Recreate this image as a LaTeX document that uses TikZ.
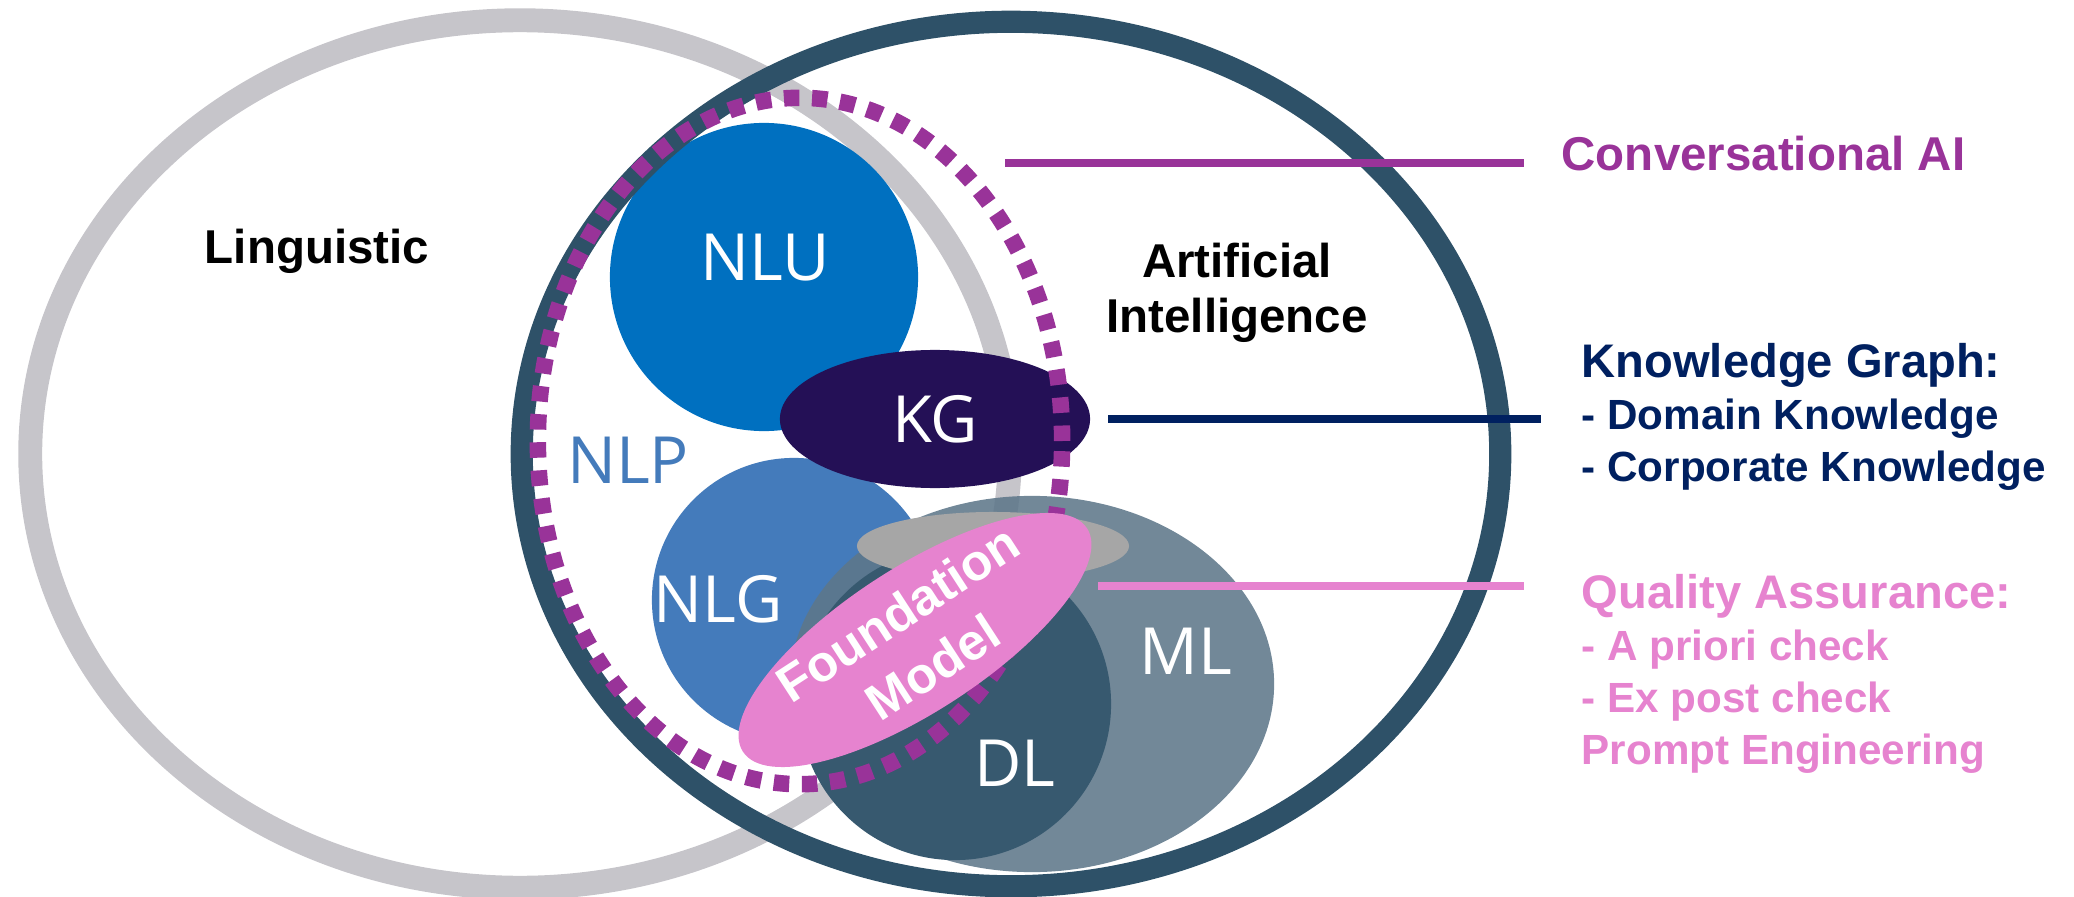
\documentclass[tikz,border=0pt]{standalone}
\usepackage{fontspec}
\setmainfont{Liberation Sans}
\newfontfamily\circlefont{Open Sans}
\usetikzlibrary{shapes.geometric}

\definecolor{lingray}{HTML}{C6C5CA}
\definecolor{aislate}{HTML}{2E5168}
\definecolor{convpurple}{HTML}{993399}
\definecolor{nlublue}{HTML}{0070C0}
\definecolor{kgpurple}{HTML}{241056}
\definecolor{kgnavy}{HTML}{002060}
\definecolor{nlgblue}{HTML}{447BBB}
\definecolor{mlslate}{HTML}{5E778A}
\definecolor{dlslate}{HTML}{37596F}
\definecolor{capgray}{HTML}{A6A6A6}
\definecolor{fmpink}{HTML}{E683CF}

\begin{document}
\begin{tikzpicture}[x=0.01cm, y=-0.01cm,
    blob/.style={ellipse, inner sep=0pt, outer sep=0pt},
    ring/.style={blob, fill=none},
    circlabel/.style={font=\circlefont\fontsize{18.5}{20}\selectfont, text=white},
    bigtitle/.style={font=\bfseries\fontsize{13.5}{15.6}\selectfont, align=center},
    sidetext/.style={anchor=north west, inner sep=0pt, align=left,
        font=\bfseries\fontsize{12}{14.8}\selectfont},
    leader/.style={line width=2pt}]

    \useasboundingbox (0,0) rectangle (2074,897);

    % outer sets
    \node[ring, draw=lingray, line width=6.8pt, minimum width=9.79cm, minimum height=8.67cm] (ling) at (520,454) {};

    \node[blob, fill=nlublue, minimum width=3.08cm, minimum height=3.08cm] (nlu) at (764,277) {};
    \node[blob, fill=nlgblue, minimum width=2.84cm, minimum height=2.84cm] (nlg) at (794,600) {};
    \node[blob, fill=mlslate, fill opacity=0.88, minimum width=4.84cm, minimum height=3.76cm] (ml) at (1032,684) {};
    \node[blob, fill=dlslate, minimum width=3.12cm, minimum height=3.12cm] (dl) at (955,704) {};

    \node[ring, draw=aislate, line width=6.3pt, minimum width=9.78cm, minimum height=8.64cm] (ai) at (1011,454) {};

    \node[blob, fill=kgpurple, text=white, font=\circlefont\fontsize{18.5}{20}\selectfont,
        minimum width=3.10cm, minimum height=1.38cm] (kg) at (935,419) {KG};

    \node[ring, draw=convpurple, line width=4.7pt, dash pattern=on 4.4pt off 3.6pt,
        minimum width=5.24cm, minimum height=6.86cm] (conv) at (800,441) {};

    \node[blob, fill=capgray, minimum width=2.72cm, minimum height=0.68cm] (cap) at (993,546) {};
    \node[blob, fill=fmpink, rotate=33, text=white, align=center,
        font=\bfseries\fontsize{14.5}{18.2}\selectfont,
        minimum width=4.10cm, minimum height=1.44cm] (fm) at (915,640) {Foundation\\Model};

    % circle labels
    \node[circlabel] (nlulabel) at (765,258) {NLU};
    \node[circlabel] (nlglabel) at (718,599) {NLG};
    \node[circlabel] (mllabel) at (1186,651) {ML};
    \node[circlabel] (dllabel) at (1015,763) {DL};
    \node[circlabel, text=nlgblue] (nlplabel) at (628,460) {NLP};

    \node[bigtitle] (linglabel) at (317,251) {Linguistic};
    \node[bigtitle] (ailabel) at (1237,293) {Artificial\\Intelligence};

    % side notes
    \node[anchor=west, inner sep=0pt, text=convpurple, font=\bfseries\fontsize{13.5}{15}\selectfont]
        (convtext) at (1561,154) {Conversational AI};
    \node[sidetext, text=kgnavy] (kgtext) at (1581,343)
        {{\fontsize{13.4}{14.8}\selectfont Knowledge Graph:}\\- Domain Knowledge\\- Corporate Knowledge};
    \node[sidetext, text=fmpink] (qatext) at (1581,574)
        {{\fontsize{13.4}{14.8}\selectfont Quality Assurance:}\\- A priori check\\- Ex post check\\Prompt Engineering};

    \coordinate (convstart) at (1005,163);
    \coordinate (qastart) at (1098,586);

    \draw[leader, convpurple] (convstart) -- (convstart -| 1524,0);
    \draw[leader, kgnavy] ([xshift=0.18cm]kg.east) -- ([xshift=-0.4cm]kg.east -| kgtext.west);
    \draw[leader, fmpink] (qastart) -- (qastart -| 1524,0);
\end{tikzpicture}
\end{document}
